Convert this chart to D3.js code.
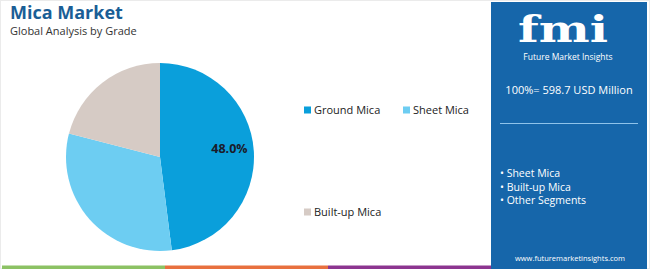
<!DOCTYPE html>
<html>
<head>
<meta charset="utf-8">
<title>Mica Market</title>
<script src="https://cdn.jsdelivr.net/npm/d3@7"></script>
<style>
  body { margin: 0; background: #fff; }
  svg { display: block; font-family: "Open Sans", Roboto, sans-serif; }
</style>
</head>
<body>
<svg id="chart" width="650" height="269"></svg>
<script>
// data
const grades = ["Ground Mica", "Sheet Mica", "Built-up Mica"];
const shares = [48.0, 31.0, 21.0];
const sliceColors = ["#0a9fdb", "#6dcdf2", "#d6cbc5"];
const shownLabels = ["48.0%", "", ""];
const panelItems = ["Sheet Mica", "Built-up Mica", "Other Segments"];
const stripeColors = ["#8cc264", "#e8703f", "#8c3590"];

const svg = d3.select("#chart");
const width = +svg.attr("width"), height = +svg.attr("height");

// light outer frame
svg.append("rect").attr("x", 0.5).attr("y", 0.5)
  .attr("width", width - 1).attr("height", height - 1)
  .attr("fill", "none").attr("stroke", "#ebebeb");

// title
svg.append("text").attr("x", 10).attr("y", 19)
  .attr("font-size", 18).attr("font-weight", 700).attr("fill", "#1a5e96")
  .text("Mica Market");
svg.append("text").attr("x", 10).attr("y", 35)
  .attr("font-size", 11).attr("fill", "#333")
  .text("Global Analysis by Grade");

// pie
const cx = 160, cy = 157, r = 94;
const pie = d3.pie().sort(null).value(d => d);
const arc = d3.arc().innerRadius(0).outerRadius(r);
const labelArc = d3.arc().innerRadius(r * 0.74).outerRadius(r * 0.74);

const g = svg.append("g").attr("transform", `translate(${cx},${cy})`);
const arcs = pie(shares);
g.selectAll("path").data(arcs).join("path")
  .attr("d", arc)
  .attr("fill", (d, i) => sliceColors[i]);

g.selectAll("text").data(arcs).join("text")
  .attr("transform", d => { const c = labelArc.centroid(d); return `translate(${c[0]},${c[1] - 4})`; })
  .attr("text-anchor", "middle").attr("dy", "0.35em")
  .attr("font-size", 12.5).attr("font-weight", 700).attr("fill", "#1b1b2a")
  .text((d, i) => shownLabels[i]);

// legend
const legendPos = [[304, 110], [403, 110], [304, 212]];
const lg = svg.append("g").selectAll("g").data(grades).join("g")
  .attr("transform", (d, i) => `translate(${legendPos[i][0]},${legendPos[i][1]})`);
lg.append("rect").attr("x", 0).attr("y", -3.5).attr("width", 7).attr("height", 7)
  .attr("fill", (d, i) => sliceColors[i]);
lg.append("text").attr("x", 10).attr("y", 0).attr("dy", "0.35em")
  .attr("font-size", 11).attr("fill", "#222").text(d => d);

// bottom stripes
const stripeX = d3.scaleLinear().domain([0, stripeColors.length]).range([2, 491]);
svg.append("g").selectAll("rect").data(stripeColors).join("rect")
  .attr("x", (d, i) => stripeX(i)).attr("y", 265.5)
  .attr("width", (d, i) => stripeX(i + 1) - stripeX(i)).attr("height", 3.5)
  .attr("fill", d => d);

// right panel
const px = 491, pw = 156;
svg.append("rect").attr("x", px).attr("y", 2).attr("width", pw).attr("height", height - 2)
  .attr("fill", "#1666aa");
const pcx = px + pw / 2;

// logo
svg.append("text")
  .attr("transform", `translate(${pcx - 6},42) scale(1.3,1)`)
  .attr("text-anchor", "middle")
  .attr("font-family", "'DejaVu Serif', 'Liberation Serif', serif")
  .attr("font-size", 37).attr("font-weight", 700).attr("fill", "#fff")
  .text("fmi");
svg.append("text").attr("x", pcx - 1).attr("y", 60).attr("text-anchor", "middle")
  .attr("font-size", 8.5).attr("fill", "#fff").text("Future Market Insights");

svg.append("text").attr("x", pcx).attr("y", 94).attr("text-anchor", "middle")
  .attr("font-size", 11).attr("fill", "#fff").text("100%= 598.7 USD Million");

svg.append("line").attr("x1", 500).attr("x2", 638).attr("y1", 123.5).attr("y2", 123.5)
  .attr("stroke", "#8fc3ea").attr("stroke-width", 1);

svg.append("g").selectAll("text").data(panelItems).join("text")
  .attr("x", 500).attr("y", (d, i) => 177 + i * 13.5)
  .attr("font-size", 10.5).attr("fill", "#fff")
  .text(d => "• " + d);

svg.append("text").attr("x", pcx + 1).attr("y", 261).attr("text-anchor", "middle")
  .attr("font-size", 7.5).attr("fill", "#fff").text("www.futuremarketinsights.com");
</script>
</body>
</html>
